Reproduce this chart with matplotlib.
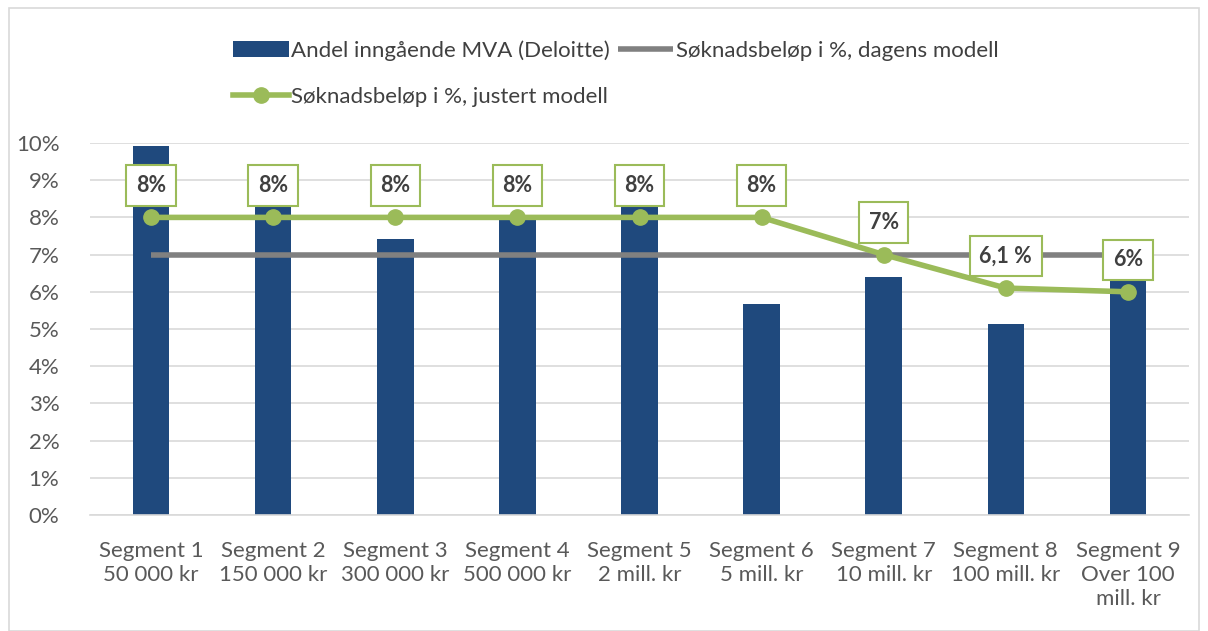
import matplotlib.pyplot as plt
import matplotlib.patches as patches
import numpy as np

plt.rcParams['font.family'] = ['Lato', 'DejaVu Sans']

kategorier = ['Segment 1\n50 000 kr', 'Segment 2\n150 000 kr', 'Segment 3\n300 000 kr',
              'Segment 4\n500 000 kr', 'Segment 5\n2 mill. kr', 'Segment 6\n5 mill. kr',
              'Segment 7\n10 mill. kr', 'Segment 8\n100 mill. kr', 'Segment 9\nOver 100\nmill. kr']
andel_mva = [9.93, 8.74, 7.42, 7.95, 8.58, 5.67, 6.40, 5.13, 6.34]
dagens = [7, 7, 7, 7, 7, 7, 7, 7, 7]
justert = [8, 8, 8, 8, 8, 8, 7, 6.1, 6.0]
etiketter = ['8%', '8%', '8%', '8%', '8%', '8%', '7%', '6,1 %', '6%']

blaa = '#1F497D'
gronn = '#9BBB59'
graa = '#808080'
tekst = '#595959'

fig = plt.figure(figsize=(12.08, 6.31), dpi=100)
ax = fig.add_axes([90/1208, 1-515/631, 1099/1208, 372/631])

x = np.arange(len(kategorier))
ax.bar(x, andel_mva, width=0.30, color=blaa, zorder=2, label='Andel inngående MVA (Deloitte)')
ax.plot(x, dagens, color=graa, lw=4, zorder=3, solid_capstyle='butt',
        label='Søknadsbeløp i %, dagens modell')
ax.plot(x, justert, color=gronn, lw=4, marker='o', ms=11, zorder=4,
        label='Søknadsbeløp i %, justert modell')

for xi, yi, lab in zip(x, justert, etiketter):
    ax.annotate(lab, (xi, yi), xytext=(0, 23), textcoords='offset points',
                ha='center', va='center', fontsize=15.5, fontweight='bold', color='#404040',
                bbox=dict(boxstyle='square,pad=0.45', fc='white', ec=gronn, lw=1.5), zorder=5)

ax.set_xlim(-0.5, 8.5)
ax.set_ylim(0, 10)
ax.set_yticks(range(0, 11))
ax.set_yticklabels([f'{v}%' for v in range(0, 11)])
ax.set_xticks(x)
ax.set_xticklabels(kategorier, linespacing=1.25)
ax.tick_params(axis='both', length=0, labelsize=16, labelcolor=tekst)
ax.tick_params(axis='y', pad=22)
ax.tick_params(axis='x', pad=19)
ax.grid(axis='y', color='#D9D9D9', lw=1.2, zorder=0)
ax.set_axisbelow(True)
for s in ['top', 'right', 'left']:
    ax.spines[s].set_visible(False)
ax.spines['bottom'].set_color('#D9D9D9')
ax.spines['bottom'].set_linewidth(1.2)

h, l = ax.get_legend_handles_labels()
# rekkefolge: stolpe, gronn, graa -> rad 1: stolpe + graa, rad 2: gronn
rek = [l.index('Andel inngående MVA (Deloitte)'), l.index('Søknadsbeløp i %, justert modell'),
       l.index('Søknadsbeløp i %, dagens modell')]
fig.legend([h[i] for i in rek], [l[i] for i in rek], ncol=2, loc='upper left',
           bbox_to_anchor=(213/1208, 1-20/631), frameon=False, fontsize=16,
           handlelength=2.5, handletextpad=0.12, columnspacing=0.35, labelspacing=1.2,
           labelcolor='#404040')

fig.patches.append(patches.Rectangle((9/1208, 0), 1190/1208, 1-8/631, transform=fig.transFigure,
                                     fill=False, ec='#D9D9D9', lw=1.2))

plt.savefig('out.png', dpi=100)
